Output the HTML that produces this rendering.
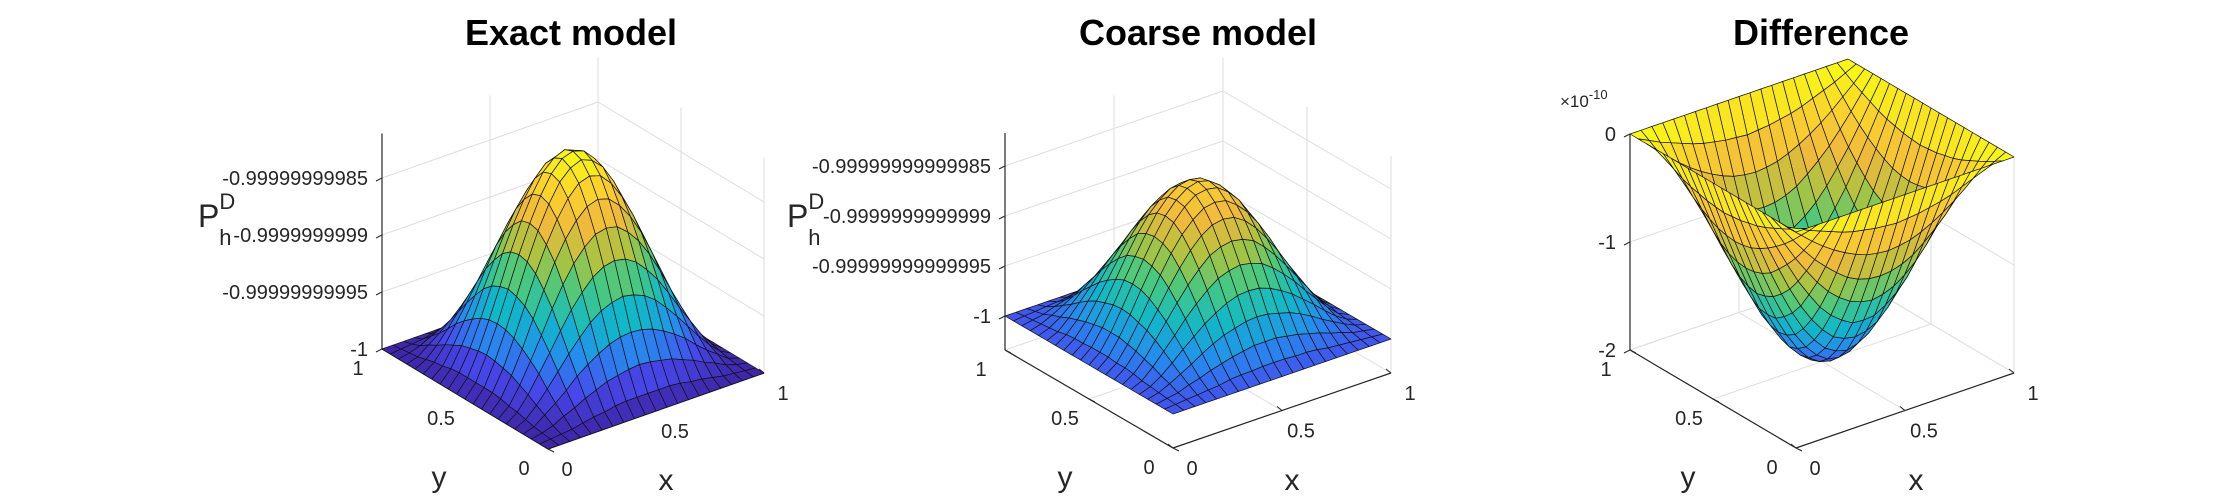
<!DOCTYPE html>
<html><head><meta charset="utf-8"><style>
html,body{margin:0;padding:0;background:#fff}
svg{display:block}
text{font-family:"Liberation Sans",Arial,sans-serif;fill:#262626}
.title{font-weight:bold;font-size:36px;fill:#000}
</style></head><body>
<svg id="fig" width="2222" height="504" viewBox="0 0 2222 504" xmlns="http://www.w3.org/2000/svg">
<rect width="2222" height="504" fill="#fff"/>
<text class="title" x="571" y="45" text-anchor="middle">Exact model</text>
<text class="title" x="1198" y="45" text-anchor="middle">Coarse model</text>
<text class="title" x="1821" y="45" text-anchor="middle">Difference</text>
</svg>
<script>
// grid coordinates (x and y)
const gridX = [0,0.05,0.1,0.15,0.2,0.25,0.3,0.35,0.4,0.45,0.5,0.55,0.6,0.65,0.7,0.75,0.8,0.85,0.9,0.95,1];
const gridY = [0,0.05,0.1,0.15,0.2,0.25,0.3,0.35,0.4,0.45,0.5,0.55,0.6,0.65,0.7,0.75,0.8,0.85,0.9,0.95,1];
// Exact model: P + 1, units of 1e-12
const exactZ = [
[0,0,0,0,0,0,0,0,0,0,0,0,0,0,0,0,0,0,0,0,0],
[0,1,2,3,5,7,8,10,11,11,11,11,11,10,8,7,5,3,2,1,0],
[0,2,5,10,14,19,23,27,29,31,32,31,29,27,23,19,14,10,5,2,0],
[0,3,10,17,25,34,41,47,52,55,56,55,52,47,41,34,25,17,10,3,0],
[0,5,14,25,37,49,60,70,77,81,83,81,77,70,60,49,37,25,14,5,0],
[0,7,19,34,49,65,80,92,102,108,110,108,102,92,80,65,49,34,19,7,0],
[0,8,23,41,60,80,98,113,124,132,134,132,124,113,98,80,60,41,23,8,0],
[0,10,27,47,70,92,113,130,143,152,155,152,143,130,113,92,70,47,27,10,0],
[0,11,29,52,77,102,124,143,158,168,171,168,158,143,124,102,77,52,29,11,0],
[0,11,31,55,81,108,132,152,168,177,181,177,168,152,132,108,81,55,31,11,0],
[0,11,32,56,83,110,134,155,171,181,184,181,171,155,134,110,83,56,32,11,0],
[0,11,31,55,81,108,132,152,168,177,181,177,168,152,132,108,81,55,31,11,0],
[0,11,29,52,77,102,124,143,158,168,171,168,158,143,124,102,77,52,29,11,0],
[0,10,27,47,70,92,113,130,143,152,155,152,143,130,113,92,70,47,27,10,0],
[0,8,23,41,60,80,98,113,124,132,134,132,124,113,98,80,60,41,23,8,0],
[0,7,19,34,49,65,80,92,102,108,110,108,102,92,80,65,49,34,19,7,0],
[0,5,14,25,37,49,60,70,77,81,83,81,77,70,60,49,37,25,14,5,0],
[0,3,10,17,25,34,41,47,52,55,56,55,52,47,41,34,25,17,10,3,0],
[0,2,5,10,14,19,23,27,29,31,32,31,29,27,23,19,14,10,5,2,0],
[0,1,2,3,5,7,8,10,11,11,11,11,11,10,8,7,5,3,2,1,0],
[0,0,0,0,0,0,0,0,0,0,0,0,0,0,0,0,0,0,0,0,0]];
// Coarse model: P + 1, units of 1e-15
const coarseZ = [
[0,0,0,0,0,0,0,0,0,0,0,0,0,0,0,0,0,0,0,0,0],
[0,1,2,3,4,5,7,8,8,9,9,9,8,8,7,5,4,3,2,1,0],
[0,2,4,8,11,15,18,21,23,25,25,25,23,21,18,15,11,8,4,2,0],
[0,3,8,14,20,27,33,38,41,44,45,44,41,38,33,27,20,14,8,3,0],
[0,4,11,20,30,39,48,55,61,65,66,65,61,55,48,39,30,20,11,4,0],
[0,5,15,27,39,52,63,73,81,85,87,85,81,73,63,52,39,27,15,5,0],
[0,7,18,33,48,63,77,89,99,104,106,104,99,89,77,63,48,33,18,7,0],
[0,8,21,38,55,73,89,103,114,121,123,121,114,103,89,73,55,38,21,8,0],
[0,8,23,41,61,81,99,114,125,133,135,133,125,114,99,81,61,41,23,8,0],
[0,9,25,44,65,85,104,121,133,141,143,141,133,121,104,85,65,44,25,9,0],
[0,9,25,45,66,87,106,123,135,143,146,143,135,123,106,87,66,45,25,9,0],
[0,9,25,44,65,85,104,121,133,141,143,141,133,121,104,85,65,44,25,9,0],
[0,8,23,41,61,81,99,114,125,133,135,133,125,114,99,81,61,41,23,8,0],
[0,8,21,38,55,73,89,103,114,121,123,121,114,103,89,73,55,38,21,8,0],
[0,7,18,33,48,63,77,89,99,104,106,104,99,89,77,63,48,33,18,7,0],
[0,5,15,27,39,52,63,73,81,85,87,85,81,73,63,52,39,27,15,5,0],
[0,4,11,20,30,39,48,55,61,65,66,65,61,55,48,39,30,20,11,4,0],
[0,3,8,14,20,27,33,38,41,44,45,44,41,38,33,27,20,14,8,3,0],
[0,2,4,8,11,15,18,21,23,25,25,25,23,21,18,15,11,8,4,2,0],
[0,1,2,3,4,5,7,8,8,9,9,9,8,8,7,5,4,3,2,1,0],
[0,0,0,0,0,0,0,0,0,0,0,0,0,0,0,0,0,0,0,0,0]];
// Difference, units of 1e-12
const diffZ = [
[0,0,0,0,0,0,0,0,0,0,0,0,0,0,0,0,0,0,0,0,0],
[0,-5,-10,-14,-18,-22,-25,-27,-29,-30,-31,-30,-29,-27,-25,-22,-18,-14,-10,-5,0],
[0,-10,-19,-28,-36,-43,-49,-54,-58,-60,-61,-60,-58,-54,-49,-43,-36,-28,-19,-10,0],
[0,-14,-28,-41,-53,-63,-72,-80,-85,-88,-89,-88,-85,-80,-72,-63,-53,-41,-28,-14,0],
[0,-18,-36,-53,-68,-82,-94,-103,-110,-114,-116,-114,-110,-103,-94,-82,-68,-53,-36,-18,0],
[0,-22,-43,-63,-82,-98,-113,-124,-132,-138,-139,-138,-132,-124,-113,-98,-82,-63,-43,-22,0],
[0,-25,-49,-72,-94,-113,-129,-142,-152,-157,-159,-157,-152,-142,-129,-113,-94,-72,-49,-25,0],
[0,-27,-54,-80,-103,-124,-142,-156,-167,-173,-176,-173,-167,-156,-142,-124,-103,-80,-54,-27,0],
[0,-29,-58,-85,-110,-132,-152,-167,-178,-185,-187,-185,-178,-167,-152,-132,-110,-85,-58,-29,0],
[0,-30,-60,-88,-114,-138,-157,-173,-185,-192,-195,-192,-185,-173,-157,-138,-114,-88,-60,-30,0],
[0,-31,-61,-89,-116,-139,-159,-176,-187,-195,-197,-195,-187,-176,-159,-139,-116,-89,-61,-31,0],
[0,-30,-60,-88,-114,-138,-157,-173,-185,-192,-195,-192,-185,-173,-157,-138,-114,-88,-60,-30,0],
[0,-29,-58,-85,-110,-132,-152,-167,-178,-185,-187,-185,-178,-167,-152,-132,-110,-85,-58,-29,0],
[0,-27,-54,-80,-103,-124,-142,-156,-167,-173,-176,-173,-167,-156,-142,-124,-103,-80,-54,-27,0],
[0,-25,-49,-72,-94,-113,-129,-142,-152,-157,-159,-157,-152,-142,-129,-113,-94,-72,-49,-25,0],
[0,-22,-43,-63,-82,-98,-113,-124,-132,-138,-139,-138,-132,-124,-113,-98,-82,-63,-43,-22,0],
[0,-18,-36,-53,-68,-82,-94,-103,-110,-114,-116,-114,-110,-103,-94,-82,-68,-53,-36,-18,0],
[0,-14,-28,-41,-53,-63,-72,-80,-85,-88,-89,-88,-85,-80,-72,-63,-53,-41,-28,-14,0],
[0,-10,-19,-28,-36,-43,-49,-54,-58,-60,-61,-60,-58,-54,-49,-43,-36,-28,-19,-10,0],
[0,-5,-10,-14,-18,-22,-25,-27,-29,-30,-31,-30,-29,-27,-25,-22,-18,-14,-10,-5,0],
[0,0,0,0,0,0,0,0,0,0,0,0,0,0,0,0,0,0,0,0,0]];
const xyTicks = [0,0.5,1];
const xyTickLabels = ['0','0.5','1'];
const exactZTicks = [0,50,100,150];
const exactZLabels = ['-1','-0.99999999995','-0.9999999999','-0.99999999985'];
const coarseZTicks = [0,50,100,150];
const coarseZLabels = ['-1','-0.99999999999995','-0.9999999999999','-0.99999999999985'];
const diffZTicks = [-200,-100,0];
const diffZLabels = ['-2','-1','0'];

const NS='http://www.w3.org/2000/svg';
const svg=document.getElementById('fig');
const stops=[[0,[62,38,168]],[0.125,[71,72,235]],[0.25,[38,140,238]],[0.375,[16,184,200]],[0.5,[70,200,130]],[0.625,[170,195,65]],[0.75,[240,185,60]],[0.875,[250,210,45]],[1,[249,250,20]]];
function parula(t){
  t=Math.max(0,Math.min(1,t));
  for(let i=1;i<stops.length;i++){
    if(t<=stops[i][0]){
      const a=stops[i-1],b=stops[i],f=(t-a[0])/(b[0]-a[0]);
      const c=a[1].map((v,k)=>Math.round(v+(b[1][k]-v)*f));
      return 'rgb('+c.join(',')+')';
    }
  }
  return 'rgb(249,250,20)';
}
function mk(tag,attrs,parent){
  const e=document.createElementNS(NS,tag);
  for(const k in attrs)e.setAttribute(k,attrs[k]);
  (parent||svg).appendChild(e);return e;
}
function panel(c){
  const g=mk('g',{});
  
  
  const P=(x,y,z)=>[c.O[0]+x*c.ex[0]+y*c.ey[0], c.O[1]+x*c.ex[1]+y*c.ey[1]-(z-c.zmin)*c.k];
  const line=(a,b,stroke,w,name)=>{const l=mk('line',{x1:a[0],y1:a[1],x2:b[0],y2:b[1],stroke:stroke,'stroke-width':w},g);
    
    return l;};
  const gc='#dedede';
  c.zTicks.forEach(z=>{line(P(0,1,z),P(1,1,z),gc,1,'z-gridline');line(P(1,1,z),P(1,0,z),gc,1,'z-gridline');});
  xyTicks.forEach(t=>{
    line(P(t,1,c.zmin),P(t,1,c.zmax),gc,1,'x-gridline');
    line(P(1,t,c.zmin),P(1,t,c.zmax),gc,1,'y-gridline');
    line(P(t,0,c.zmin),P(t,1,c.zmin),gc,1,'x-floor-gridline');
    line(P(0,t,c.zmin),P(1,t,c.zmin),gc,1,'y-floor-gridline');
  });
  line(P(0,1,c.zmin),P(0,1,c.zmax),'#262626',1.2,'z-axis-line');
  line(P(0,1,c.zmin),P(0,0,c.zmin),'#262626',1.2,'y-axis-line');
  line(P(0,0,c.zmin),P(1,0,c.zmin),'#262626',1.2,'x-axis-line');
  c.zTicks.forEach((z,i)=>{
    const p=P(0,1,z);
    line(p,[p[0]-6,p[1]+3],'#262626',1,'z-tick');
    const t=mk('text',{x:p[0]-14,y:p[1]+7,'text-anchor':'end','font-size':20},g);
    
    
    t.textContent=c.zLabels[i];
  });
  xyTicks.forEach((v,i)=>{
    const py=P(0,v,c.zmin);
    line(py,[py[0]+6,py[1]+3],'#262626',1,'y-tick');
    const ty=mk('text',{x:py[0]-24,y:py[1]+26,'text-anchor':'middle','font-size':20},g);
    
    
    ty.textContent=xyTickLabels[i];
    const px=P(v,0,c.zmin);
    line(px,[px[0]-5,px[1]-4],'#262626',1,'x-tick');
    const tx=mk('text',{x:px[0]+19,y:px[1]+27,'text-anchor':'middle','font-size':20},g);
    
    
    tx.textContent=xyTickLabels[i];
  });
  const Z=c.Z, n=gridX.length;
  const sg=mk('g',{},g);
  
  
  for(let s=2*(n-2);s>=0;s--){
    for(let i=0;i<n-1;i++){
      const j=s-i; if(j<0||j>n-2)continue;
      const pts=[[i,j],[i+1,j],[i+1,j+1],[i,j+1]].map(([a,b])=>P(gridX[a],gridY[b],Z[b][a]));
      const zc=(Z[j][i]+Z[j][i+1]+Z[j+1][i]+Z[j+1][i+1])/4;
      const poly=mk('polygon',{points:pts.map(p=>p[0].toFixed(1)+','+p[1].toFixed(1)).join(' '),fill:parula((zc-c.clim[0])/(c.clim[1]-c.clim[0])),stroke:'#111','stroke-width':0.7,'stroke-linejoin':'round'},sg);
      
      
    }
  }
  const xl=mk('text',{x:c.xLab[0],y:c.xLab[1],'text-anchor':'middle','font-size':30},g);
  
  
  xl.textContent='x';
  const yl=mk('text',{x:c.yLab[0],y:c.yLab[1],'text-anchor':'middle','font-size':30},g);
  
  
  yl.textContent='y';
}
panel({name:'exact-model-panel',O:[548,449],ex:[216,-76],ey:[-166,-100],k:1.14,zmin:0,zmax:189,Z:exactZ,clim:[0,184],zTicks:exactZTicks,zLabels:exactZLabels,xLab:[666,490],yLab:[439,487]});
panel({name:'coarse-model-panel',O:[1173,448],ex:[218,-75],ey:[-168,-98],k:1.0,zmin:-34,zmax:183,Z:coarseZ,clim:[-30,175],zTicks:coarseZTicks,zLabels:coarseZLabels,xLab:[1292,490],yLab:[1065,487]});
panel({name:'difference-panel',O:[1796,448],ex:[218,-75],ey:[-166,-98],k:1.08,zmin:-200,zmax:0,Z:diffZ,clim:[-225,0],zTicks:diffZTicks,zLabels:diffZLabels,xLab:[1916,490],yLab:[1688,487]});
</script>
<svg style="position:absolute;left:0;top:0" width="2222" height="504">
<text x="198" y="227" font-size="32" style="font-family:'Liberation Sans',sans-serif;fill:#262626">P<tspan font-size="22" dy="-18">D</tspan><tspan font-size="22" dx="-16" dy="36">h</tspan></text>
<text x="787" y="227" font-size="32" style="font-family:'Liberation Sans',sans-serif;fill:#262626">P<tspan font-size="22" dy="-18">D</tspan><tspan font-size="22" dx="-16" dy="36">h</tspan></text>
<text x="1560" y="107" font-size="17" style="font-family:'Liberation Sans',sans-serif;fill:#262626">×10<tspan font-size="13" dy="-8">-10</tspan></text>
</svg>
</body></html>
